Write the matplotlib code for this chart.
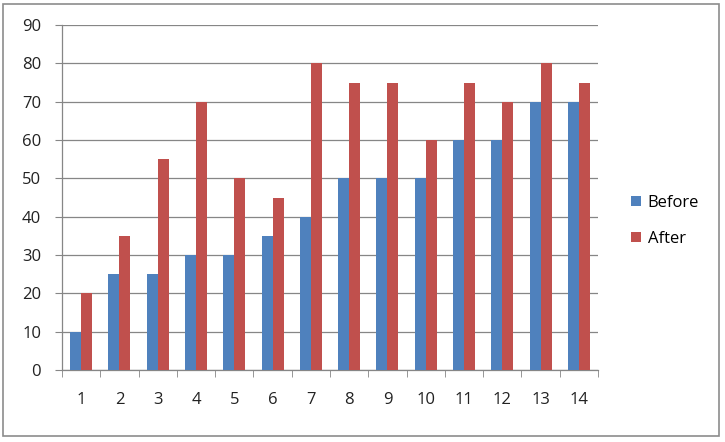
import numpy as np
import matplotlib
matplotlib.use("Agg")
import matplotlib.pyplot as plt
from matplotlib.patches import Rectangle

categories = [str(i) for i in range(1, 15)]
before = [10, 25, 25, 30, 30, 35, 40, 50, 50, 50, 60, 60, 70, 70]
after = [20, 35, 55, 70, 50, 45, 80, 75, 75, 60, 75, 70, 80, 75]
y_ticks = [0, 10, 20, 30, 40, 50, 60, 70, 80, 90]

plt.rcParams['font.family'] = ['Open Sans', 'DejaVu Sans']

fig = plt.figure(figsize=(7.25, 4.42), dpi=100)
W, H = 725, 442
# plot area in pixel coordinates (from the reference)
left, right, top, bottom = 62, 598, 25, 370
ax = fig.add_axes([left / W, 1 - bottom / H, (right - left) / W, (bottom - top) / H])

# outer chart border
fig.patches.append(Rectangle((3 / W, 6 / H), 716 / W, 432 / H, transform=fig.transFigure,
                             fill=False, edgecolor='#8c8c8c', linewidth=1.2))

x = np.arange(len(categories))
w = 1 / 3.5
ax.bar(x - w / 2, before, w, color='#4F81BD', label='Before', zorder=3)
ax.bar(x + w / 2, after, w, color='#C0504D', label='After', zorder=3)

ax.set_xlim(-0.5, len(categories) - 0.5)
ax.set_ylim(0, 90)
ax.set_yticks(y_ticks)
ax.yaxis.grid(True, color='#868686', linewidth=0.9, zorder=0)

ax.set_xticks(x)
ax.set_xticklabels(categories)
ax.set_xticks(np.arange(-0.5, len(categories)), minor=True)
ax.tick_params(axis='x', which='major', length=0, pad=16, labelsize=12, colors='#222222')
ax.tick_params(axis='x', which='minor', length=5, color='#868686', direction='out')
ax.tick_params(axis='y', length=5, color='#868686', pad=10, labelsize=12, labelcolor='#222222')

for s in ['top', 'right']:
    ax.spines[s].set_visible(False)
for s in ['left', 'bottom']:
    ax.spines[s].set_color('#868686')
    ax.spines[s].set_linewidth(0.9)

ax.legend(loc='center left', bbox_to_anchor=(616 / W, 1 - 221 / H), bbox_transform=fig.transFigure,
          frameon=False, fontsize=12, handlelength=0.6, handleheight=0.6,
          handletextpad=0.4, labelspacing=1.2)

fig.savefig('out.png', dpi=100)
